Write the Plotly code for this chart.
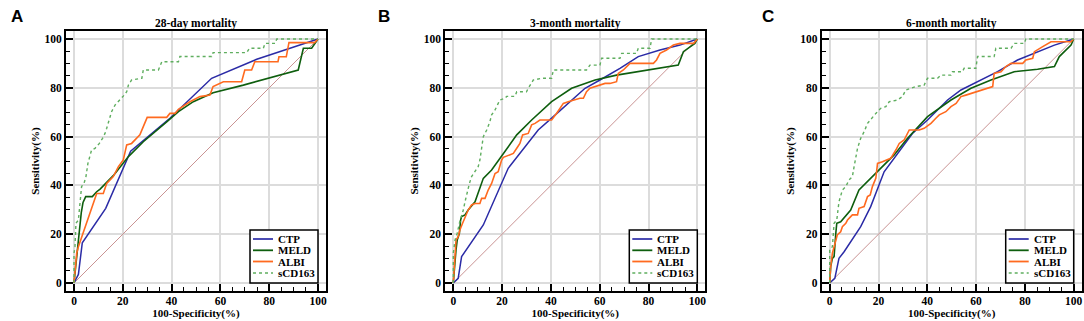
import plotly.graph_objects as go

# ---------------- data ----------------
panel_titles = ["28-day mortality", "3-month mortality", "6-month mortality"]
panel_letters = ["A", "B", "C"]
series_names = ["CTP", "MELD", "ALBI", "sCD163"]
tick_vals = [0, 20, 40, 60, 80, 100]
tick_text = ["0", "20", "40", "60", "80", "100"]
ref_line = [0, 100]

# Panel A : 28-day mortality
fpr_a_ctp = [0, 1.8, 3.4, 13.0, 23.2, 39.3, 56.4, 74.9, 100]
tpr_a_ctp = [0, 3.5, 16.5, 30.6, 54.0, 67.5, 83.9, 91.7, 100]
fpr_a_meld = [0, 0.4, 1.2, 2.4, 3.0, 3.7, 4.8, 7.5, 9.3, 10.7, 16.1, 22.3, 28.4, 38.0, 42.8, 48.9, 54.4, 57.0, 69.4, 91.9, 94.0, 97.4, 100]
tpr_a_meld = [0, 4, 12, 24, 29, 33, 35.4, 35.4, 37.4, 38.5, 44.0, 51.8, 57.9, 66.0, 70.2, 74.3, 77.0, 78.0, 81.1, 87.3, 96.2, 96.2, 100]
fpr_a_albi = [0, 0.4, 1.1, 1.8, 2.7, 3.8, 5.2, 6.3, 7.2, 8.2, 9.3, 12.0, 13.4, 16.1, 18.2, 20.2, 21.6, 23.6, 25.0, 27.0,
              28.4, 30.0, 38.0, 39.3, 41.4, 42.8, 47.5, 51.6, 55.7, 57.0, 61.2, 68.7, 70.0, 72.8, 74.1, 83.6, 84.0, 87.0, 88.1, 98.6, 100]
tpr_a_albi = [0, 4, 12.2, 14.9, 17.6, 20.4, 24.5, 28.6, 31.3, 34.0, 36.7, 36.7, 40.8, 43.6, 47.7, 50.4, 56.6, 57.2, 58.6, 60.7,
              64.1, 67.9, 67.9, 69.5, 69.5, 71.2, 74.3, 76.4, 77.0, 80.5, 82.5, 82.5, 87.3, 87.3, 90.7, 90.7, 92.7, 92.7, 98.5, 98.5, 100]
fpr_a_scd = [0, 0, 0.4, 0.8, 1.8, 2.2, 2.7, 3.1, 4.1, 4.9, 5.7, 6.6, 7.2, 8.6, 10.4, 11.7, 12.7, 13.4, 14.5, 15.4,
             16.8, 18.9, 20.2, 21.6, 22.3, 23.6, 27.8, 28.4, 34.6, 36.0, 42.8, 43.4, 56.4, 57.0, 70.8, 71.9, 77.6, 78.3, 82.4, 83.1, 100]
tpr_a_scd = [0, 12.2, 14.9, 24.5, 25.8, 31.3, 36.7, 39.5, 40.8, 43.6, 49.0, 51.8, 54.5, 55.2, 57.2, 59.3, 61.3, 63.4, 66.8, 70.2,
             72.9, 75.0, 76.6, 78.4, 81.1, 83.2, 83.9, 87.3, 87.3, 90.7, 90.7, 92.8, 92.8, 94.4, 94.4, 96.2, 96.2, 98.2, 98.2, 100, 100]

# Panel B : 3-month mortality
fpr_b_ctp = [0, 2.0, 3.4, 12.3, 22.5, 27.3, 34.8, 41.0, 47.8, 54.0, 60.1, 68.3, 75.8, 84.7, 92.9, 100]
tpr_b_ctp = [0, 1.9, 10.8, 23.8, 47.0, 53.1, 62.7, 68.2, 74.3, 79.8, 83.2, 88.0, 92.8, 95.5, 97.5, 100]
fpr_b_meld = [0, 0.4, 1.1, 1.6, 2.5, 3.0, 3.4, 4.8, 6.1, 8.9, 12.3, 15.7, 20.5, 26.0, 32.1, 40.3, 48.5, 58.1, 66.9, 80.6, 92.2, 94.3, 97.0, 99.0, 100]
tpr_b_meld = [0, 6.7, 13.5, 17.6, 20.4, 25.8, 27.2, 27.9, 29.9, 33.3, 42.9, 46.3, 53.1, 60.7, 66.8, 74.3, 79.8, 83.2, 85.2, 87.3, 89.3, 94.8, 96.9, 98.2, 100]
fpr_b_albi = [0, 0.4, 1.1, 2.0, 2.7, 3.8, 4.8, 6.1, 7.5, 8.9, 10.9, 11.6, 13.0, 14.3, 15.7, 17.1, 18.4, 19.8, 20.5, 23.2,
              24.6, 26.0, 27.3, 28.4, 30.7, 32.1, 33.5, 35.5, 40.3, 42.3, 43.7, 45.1, 47.1, 49.2, 51.9, 53.3, 54.6, 56.0, 58.1, 60.1,
              62.2, 64.2, 66.9, 67.6, 69.7, 72.4, 82.0, 83.3, 84.7, 87.4, 90.2, 92.9, 98.5, 100]
tpr_b_albi = [0, 6.7, 17.6, 19.0, 21.7, 24.5, 27.2, 29.9, 32.0, 32.6, 32.6, 34.7, 34.7, 38.1, 40.8, 44.9, 45.6, 50.4, 51.5, 52.5,
              53.1, 55.2, 57.2, 60.7, 61.3, 64.8, 65.4, 66.8, 66.8, 69.5, 71.6, 73.6, 74.3, 75.0, 75.7, 75.7, 78.4, 79.8, 80.5, 81.1,
              81.8, 81.8, 82.5, 85.9, 87.3, 90.0, 90.0, 91.4, 94.1, 95.5, 97.5, 98.2, 98.2, 100]
fpr_b_scd = [0, 0, 0.7, 1.6, 2.5, 3.4, 4.1, 4.8, 5.5, 6.6, 7.5, 8.9, 10.2, 10.9, 11.6, 12.3, 13.7, 15.0, 15.7, 17.1,
             18.4, 19.1, 21.2, 21.9, 25.3, 26.0, 30.0, 30.7, 32.8, 36.2, 40.3, 41.0, 54.6, 56.0, 60.1, 60.8, 68.3, 69.0, 75.1, 75.8,
             80.6, 81.3, 100]
tpr_b_scd = [0, 12.2, 17.6, 20.4, 24.5, 27.2, 29.9, 33.3, 36.7, 40.8, 43.6, 45.6, 47.7, 50.4, 55.9, 60.0, 62.7, 66.1, 68.9, 70.9,
             73.6, 75.0, 75.7, 76.5, 76.5, 78.4, 78.4, 79.8, 83.2, 83.9, 83.9, 87.3, 87.3, 89.3, 89.3, 92.1, 92.1, 94.1, 94.1, 96.2,
             96.2, 100, 100]

# Panel C : 6-month mortality
fpr_c_ctp = [0, 2.1, 3.8, 5.9, 12.7, 16.8, 22.3, 27.8, 33.9, 40.1, 48.3, 53.8, 62.0, 68.8, 77.0, 85.2, 92.1, 100]
tpr_c_ctp = [0, 1.9, 10.1, 12.8, 23.1, 31.3, 45.6, 53.1, 61.3, 66.8, 75.0, 79.1, 83.2, 86.6, 91.4, 94.8, 97.5, 100]
fpr_c_meld = [0, 0.4, 1.1, 1.8, 2.5, 2.9, 4.5, 7.3, 8.6, 12.0, 15.5, 19.6, 26.4, 31.9, 40.1, 49.7, 57.9, 66.1, 75.6, 85.2, 92.1, 94.1, 96.9, 98.9, 100]
tpr_c_meld = [0, 6.7, 10.1, 10.8, 20.4, 24.5, 25.1, 28.6, 29.9, 38.1, 41.5, 45.6, 52.5, 59.3, 68.2, 75.0, 79.8, 83.2, 86.6, 87.6, 88.7, 92.8, 95.5, 97.5, 100]
fpr_c_albi = [0, 0.4, 1.1, 1.8, 2.5, 3.1, 4.5, 5.2, 6.6, 7.3, 8.6, 9.3, 11.4, 12.0, 14.1, 15.5, 16.6, 17.5, 18.9, 19.6,
              21.6, 25.0, 27.1, 28.5, 30.5, 32.6, 34.6, 36.7, 38.7, 41.5, 43.5, 44.9, 47.6, 49.7, 51.8, 53.8, 55.8, 59.9, 64.0, 66.8,
              67.4, 70.2, 72.2, 74.3, 79.1, 80.4, 83.2, 83.9, 87.3, 90.7, 98.9, 100]
tpr_c_albi = [0, 6.7, 12.2, 14.9, 17.6, 19.7, 21.0, 23.1, 24.5, 25.8, 27.2, 27.9, 27.9, 30.6, 31.3, 35.4, 36.1, 39.5, 42.9, 49.0,
              49.7, 51.1, 54.5, 57.2, 58.6, 62.7, 62.7, 62.7, 63.4, 65.4, 67.5, 68.9, 70.2, 72.3, 73.6, 76.4, 77.0, 78.4, 79.8, 80.5,
              85.9, 86.6, 88.7, 90.0, 90.0, 91.4, 92.1, 94.8, 96.9, 98.9, 98.9, 100]
fpr_c_scd = [0, 0, 1.1, 1.8, 2.9, 3.8, 5.2, 6.6, 7.9, 9.3, 10.0, 10.7, 11.4, 12.7, 14.1, 15.5, 17.1, 18.9, 20.9, 23.0,
             24.4, 27.8, 29.8, 31.2, 33.2, 35.3, 38.7, 40.1, 44.2, 45.6, 49.7, 50.3, 54.4, 55.1, 59.9, 60.6, 67.4, 68.1, 74.3, 75.6,
             79.8, 80.4, 100]
tpr_c_scd = [0, 13.5, 14.9, 24.5, 25.8, 33.3, 38.1, 39.5, 42.2, 43.6, 47.7, 51.8, 55.2, 59.3, 62.0, 65.4, 67.5, 69.5, 71.6, 72.3,
             74.3, 75.0, 76.4, 79.1, 79.8, 80.5, 81.1, 83.9, 83.9, 85.2, 85.2, 86.6, 86.6, 88.0, 88.0, 92.8, 92.8, 96.2, 96.2, 98.2,
             98.2, 100, 100]

panels = [
    [(fpr_a_ctp, tpr_a_ctp), (fpr_a_meld, tpr_a_meld), (fpr_a_albi, tpr_a_albi), (fpr_a_scd, tpr_a_scd)],
    [(fpr_b_ctp, tpr_b_ctp), (fpr_b_meld, tpr_b_meld), (fpr_b_albi, tpr_b_albi), (fpr_b_scd, tpr_b_scd)],
    [(fpr_c_ctp, tpr_c_ctp), (fpr_c_meld, tpr_c_meld), (fpr_c_albi, tpr_c_albi), (fpr_c_scd, tpr_c_scd)],
]

# ---------------- style ----------------
W, H = 1084, 321
SERIF = "Liberation Serif"
SANS = "Liberation Sans"
colors = ["#2b2ba6", "#0e5e0e", "#ff6a1f", "#5fae5f"]
dashes = ["solid", "solid", "solid", "dot"]
widths = [1.5, 1.6, 1.6, 1.4]
diag_color = "#c99393"

frames_px = [(66, 326), (445.3, 705.3), (821.7, 1081.7)]
top_px, bot_px = 31, 291
letter_px = [17, 384, 768]
rng = [-3.28, 103.28]

fig = go.Figure()
layout = dict(
    width=W, height=H,
    margin=dict(l=0, r=0, t=0, b=0, autoexpand=False),
    paper_bgcolor="white", plot_bgcolor="white",
    showlegend=False,
    annotations=[], shapes=[],
)

tickfont = dict(family=SERIF, size=11.5, color="black", weight="bold")
labfont = dict(family=SERIF, size=11, color="black", weight="bold")

for i, data in enumerate(panels):
    sfx = "" if i == 0 else str(i + 1)
    xa, ya = "x" + sfx, "y" + sfx
    x0, x1 = frames_px[i]
    axis_common = dict(
        range=rng, tickvals=tick_vals, ticktext=tick_text,
        showline=True, linecolor="black", linewidth=2, mirror=True,
        ticks="inside", ticklen=7, tickwidth=1.5, tickcolor="black",
        minor=dict(dtick=5, ticks="inside", ticklen=4, tickwidth=1.2, tickcolor="black", showgrid=False),
        showgrid=True, gridcolor="#dcdcdc", gridwidth=1.5,
        zeroline=False, tickfont=tickfont, fixedrange=True, automargin=False,
    )
    layout["xaxis" + sfx] = dict(
        axis_common, domain=[x0 / W, x1 / W], anchor=ya, ticklabelstandoff=-2,
        title=dict(text="100-Specificity(%)", font=labfont, standoff=3),
    )
    layout["yaxis" + sfx] = dict(
        axis_common, domain=[1 - bot_px / H, 1 - top_px / H], anchor=xa,
        title=dict(text="Sensitivity(%)", font=labfont, standoff=3),
    )

    # reference diagonal
    fig.add_trace(go.Scatter(x=ref_line, y=ref_line, mode="lines", xaxis=xa, yaxis=ya,
                             line=dict(color=diag_color, width=1), hoverinfo="skip"))
    for k, (fx, ty) in enumerate(data):
        fig.add_trace(go.Scatter(x=fx, y=ty, mode="lines", name=series_names[k], xaxis=xa, yaxis=ya,
                                 line=dict(color=colors[k], width=widths[k], dash=dashes[k])))

    # panel title
    layout["annotations"].append(dict(
        text=panel_titles[i], xref=xa + " domain", yref="paper", x=0.5, y=1 - 23 / H,
        showarrow=False, xanchor="center", yanchor="middle",
        font=dict(family=SERIF, size=11.5, color="black", weight="bold")))
    # panel letter
    layout["annotations"].append(dict(
        text=panel_letters[i], xref="paper", yref="paper", x=letter_px[i] / W, y=1 - 16 / H,
        showarrow=False, xanchor="center", yanchor="middle",
        font=dict(family=SANS, size=17, color="black", weight="bold")))

    # legend box (drawn inside plot frame, bottom-right)
    fw = x1 - x0
    fh = bot_px - top_px
    def fx_(px):
        return (px - 66) / fw
    def fy_(py):
        return (bot_px - py) / fh
    layout["shapes"].append(dict(type="rect", xref=xa + " domain", yref=ya + " domain",
                                 x0=fx_(250), x1=fx_(318), y0=fy_(283), y1=fy_(230),
                                 line=dict(color="black", width=1.5), fillcolor="white", layer="above"))
    row_py = [239, 250.3, 261.5, 273]
    for k in range(4):
        layout["shapes"].append(dict(type="line", xref=xa + " domain", yref=ya + " domain",
                                     x0=fx_(253), x1=fx_(273), y0=fy_(row_py[k]), y1=fy_(row_py[k]),
                                     line=dict(color=colors[k], width=widths[k] + 0.2, dash=dashes[k]), layer="above"))
        layout["annotations"].append(dict(
            text=series_names[k], xref=xa + " domain", yref=ya + " domain",
            x=fx_(276), y=fy_(row_py[k]), showarrow=False, xanchor="left", yanchor="middle",
            font=dict(family=SERIF, size=11, color="black", weight="bold")))

fig.update_layout(**layout)
fig.write_html("out.html", config={"displayModeBar": False},
               post_script="document.body.style.margin='0';document.body.style.overflow='hidden';")
